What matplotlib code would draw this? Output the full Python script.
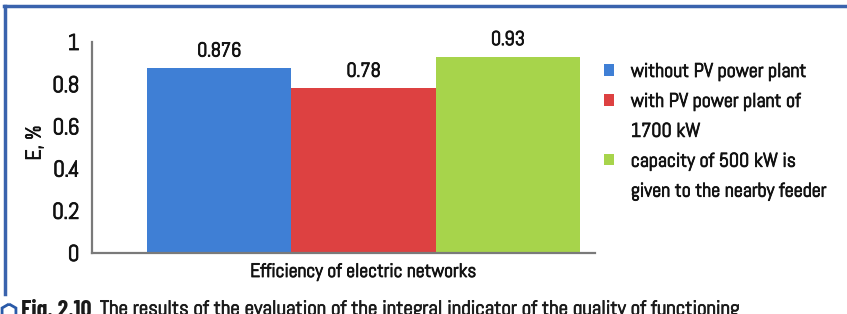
import matplotlib
matplotlib.use("Agg")
import matplotlib.pyplot as plt
import matplotlib.patheffects as pe
from matplotlib.patches import Patch, RegularPolygon
from matplotlib.lines import Line2D

plt.rcParams['font.family'] = ['Abel', 'DejaVu Sans']

categories = ["without PV power plant",
              "with PV power plant of 1700 kW",
              "capacity of 500 kW is given to the nearby feeder"]
values = [0.876, 0.78, 0.93]
value_labels = ["0.876", "0.78", "0.93"]
colors = ["#3f7fd5", "#dd4141", "#a7d44b"]
yticks = [0, 0.2, 0.4, 0.6, 0.8, 1]
ytick_labels = ["0", "0.2", "0.4", "0.6", "0.8", "1"]
legend_lines = [("without PV power plant", 0),
                ("with PV power plant of", 1),
                ("1700 kW", None),
                ("capacity of 500 kW is", 2),
                ("given to the nearby feeder", None)]

TXT = '#111111'
bold_fx = [pe.withStroke(linewidth=0.6, foreground=TXT)]

W, H = 847, 314
fig = plt.figure(figsize=(W / 100, H / 100), dpi=100)
ax = fig.add_axes([92 / W, (H - 253) / H, (595 - 92) / W, (253 - 42) / H])

x = list(range(len(values)))
bars = ax.bar(x, values, width=1.0, color=colors, edgecolor='none')
for xi, v, lab in zip(x, values, value_labels):
    ax.annotate(lab, (xi, v), xytext=(0, 5.5), textcoords='offset points',
                ha='center', va='bottom', fontsize=14.5, color=TXT,
                path_effects=bold_fx)

ax.set_xlim(-0.5 - 55 / 144.3, 2.5 + 15 / 144.3)
ax.set_ylim(0, 1)
ax.set_yticks(yticks)
ax.set_yticklabels(ytick_labels, fontsize=16.5)
ax.set_xticks([])
ax.tick_params(axis='y', length=0, pad=9, labelcolor=TXT)
for t in ax.get_yticklabels():
    t.set_path_effects(bold_fx)
for s in ['top', 'right']:
    ax.spines[s].set_visible(False)
for s in ['left', 'bottom']:
    ax.spines[s].set_color('#7a7a7a')
    ax.spines[s].set_linewidth(1.6)
ax.set_xlabel("Efficiency of electric networks", fontsize=14, color=TXT,
              path_effects=bold_fx)
ax.xaxis.set_label_coords((363 - 92) / (595 - 92), -(272 - 253) / (253 - 42) )
ax.xaxis.label.set_va('center')
ax.set_ylabel("E, %", fontsize=15.5, color=TXT, path_effects=bold_fx)
ax.yaxis.set_label_coords(-(92 - 35) / (595 - 92), (253 - 143) / (253 - 42))
ax.yaxis.label.set_va('center')

# legend (multi-line labels split so the square sits beside the first line)
handles = []
for text, idx in legend_lines:
    if idx is None:
        handles.append(Patch(facecolor='none', edgecolor='none'))
    else:
        handles.append(Patch(facecolor=colors[idx], edgecolor='none'))
leg = fig.legend(handles, [t for t, _ in legend_lines], loc='upper left',
                 bbox_to_anchor=(604 / W, 1 - 63 / H), frameon=False,
                 fontsize=14.3, handlelength=0.5, handleheight=0.5,
                 handletextpad=0.85, labelspacing=0.6, borderaxespad=0,
                 borderpad=0, labelcolor=TXT)
for t in leg.get_texts():
    t.set_path_effects(bold_fx)

# decorative frame
fig.add_artist(Line2D([5 / W, 5 / W], [1 - 6 / H, 1 - 294 / H],
                      transform=fig.transFigure, color='#3a63ad', lw=2.5))
fig.add_artist(Line2D([4 / W, 1], [1 - 6 / H, 1 - 6 / H],
                      transform=fig.transFigure, color='#3a63ad', lw=2.5))

# caption (cut off at the bottom)
fig.add_artist(RegularPolygon((9, 2), numVertices=6, radius=8,
                              transform=None, facecolor='none',
                              edgecolor='#2a5aa8', lw=2))
fig.text(21 / W, 1 - 299 / H, "Fig. 2.10", fontsize=17.5, fontweight='bold',
         family=['Barlow Condensed', 'Abel', 'DejaVu Sans'],
         va='top', ha='left', color='#1a1a1a')
fig.text(100 / W, 1 - 300 / H,
         "The results of the evaluation of the integral indicator of the quality of functioning",
         fontsize=15, va='top', ha='left', color='#1a1a1a',
         path_effects=[pe.withStroke(linewidth=0.6, foreground='#1a1a1a')])

fig.savefig("out.png", dpi=100)
